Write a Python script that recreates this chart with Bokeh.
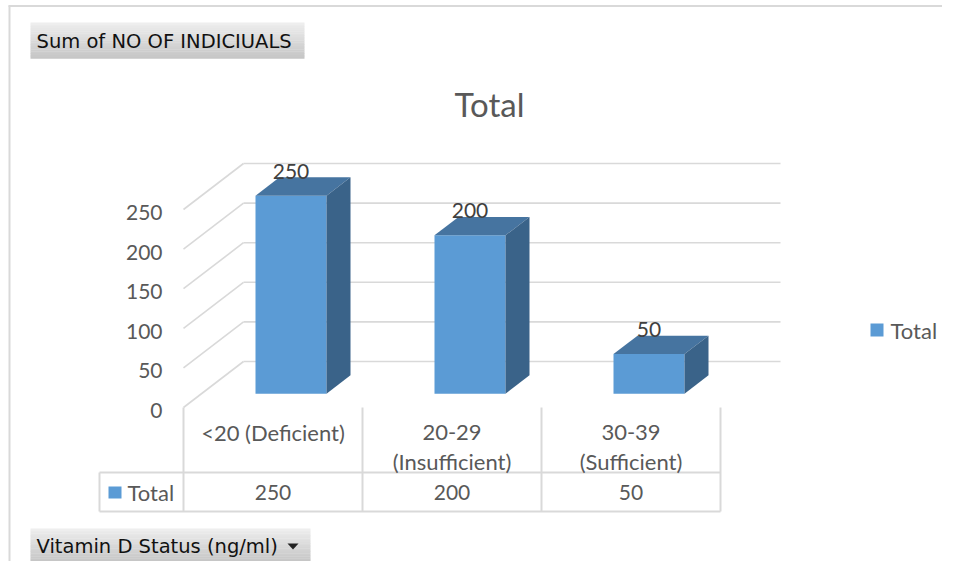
from bokeh.plotting import figure
from bokeh.models import Range1d
from bokeh.core.properties import value
from bokeh.embed import file_html
from bokeh.resources import INLINE

# ---------------- data ----------------
categories = ["<20 (Deficient)", "20-29 (Insufficient)", "30-39 (Sufficient)"]
values = [250, 200, 50]
y_ticks = [0, 50, 100, 150, 200, 250]
series_name = "Total"
chart_title = "Total"
value_field_label = "Sum of NO OF INDICIUALS"
axis_field_label = "Vitamin D Status (ng/ml)"

# ---------------- geometry (pixels of the picture) ----------------
W, H = 942, 561
OFF = 0
X0, Y0 = 272.5, 407.0      # front plane: category 0 centre, value 0
CX, K = 179.0, 0.792       # px per category, px per value unit
DX, DY = 60.0, 46.0        # full depth offset (right, up)

def px2x(X): return (X - X0) / CX
def px2y(Y): return (Y0 - Y) / K
def ddx(px): return px / CX
def ddy(px): return -px / K       # px downwards -> data
def depth(d): return (d * DX / CX, d * DY / K)

BLUE = "#5B9BD5"
TOP = "#4674A0"
SIDE = "#3A6389"
GRID = "#d9d9d9"
TXT = "#595959"
FONT = value("Lato")
BFONT = value("DejaVu Sans")

p = figure(width=W, height=H, output_backend="svg", toolbar_location=None,
           x_axis_type=None, y_axis_type=None, min_border=0,
           x_range=Range1d(px2x(OFF), px2x(OFF + W)),
           y_range=Range1d(px2y(OFF + H), px2y(OFF)))
p.outline_line_color = None
p.background_fill_color = "white"
p.border_fill_color = "white"

n = len(categories)
left_edge, right_edge = -0.5, n - 0.5

# outer chart border (left and top)
p.line([px2x(9), px2x(9)], [px2y(5), px2y(OFF + H)], line_color=GRID, line_width=2)
p.line([px2x(8), px2x(OFF + W)], [px2y(5.5), px2y(5.5)], line_color=GRID, line_width=2)

# ---------------- 3D walls / gridlines ----------------
wx, wy = depth(1.0)
gxs, gys = [], []
for v in y_ticks:
    gxs.append([left_edge, left_edge + wx]); gys.append([v, v + wy])
    gxs.append([left_edge + wx, right_edge + wx]); gys.append([v + wy, v + wy])
p.multi_line(gxs, gys, line_color=GRID, line_width=1.6)

# y tick labels
p.text(x=[left_edge + ddx(-21)] * len(y_ticks), y=[v + ddy(3) for v in y_ticks],
       text=[str(v) for v in y_ticks], text_font=FONT, text_font_size=value("21px"),
       text_color=TXT, text_align="right", text_baseline="middle")

# ---------------- bars ----------------
hw = 35.5 / CX
f0x, f0y = depth(0.3)
f1x, f1y = depth(0.7)
idx = list(range(n))
lefts = [i - hw + f0x for i in idx]
rights = [i + hw + f0x for i in idx]
p.quad(left=lefts, right=rights, bottom=[f0y] * n, top=[v + f0y for v in values],
       fill_color=BLUE, line_color=None)
top_xs, top_ys, side_xs, side_ys = [], [], [], []
for i, v in zip(idx, values):
    l, r = i - hw, i + hw
    top_xs.append([l + f0x, r + f0x, r + f1x, l + f1x])
    top_ys.append([v + f0y, v + f0y, v + f1y, v + f1y])
    side_xs.append([r + f0x, r + f1x, r + f1x, r + f0x])
    side_ys.append([f0y, f1y, v + f1y, v + f0y])
p.patches(top_xs, top_ys, fill_color=TOP, line_color=None)
p.patches(side_xs, side_ys, fill_color=SIDE, line_color=None)

# data labels
p.text(x=[i + f0x for i in idx], y=[v + f1y + ddy(-6) for v in values],
       text=[str(v) for v in values], text_font=FONT, text_font_size=value("21px"),
       text_color="#404040", text_align="center", text_baseline="middle")

# ---------------- title ----------------
p.text(x=[px2x(489)], y=[px2y(103)], text=[chart_title], text_font=FONT,
       text_font_size=value("33px"), text_color=TXT, text_align="center", text_baseline="middle")

# ---------------- legend (right) ----------------
p.quad(left=[px2x(870)], right=[px2x(883)], top=[px2y(323)], bottom=[px2y(336)],
       fill_color=BLUE, line_color=None)
p.text(x=[px2x(890)], y=[px2y(330)], text=[series_name], text_font=FONT,
       text_font_size=value("22px"), text_color=TXT, text_align="left", text_baseline="middle")

# ---------------- data table ----------------
T_TOP, T_MID, T_BOT, T_LEFT = 407, 472, 511, 99
txs, tys = [], []
for e in [left_edge + k for k in range(n + 1)]:
    txs.append([e, e]); tys.append([px2y(T_TOP), px2y(T_BOT)])
txs.append([px2x(T_LEFT), px2x(T_LEFT)]); tys.append([px2y(T_MID), px2y(T_BOT)])
for Y in (T_MID, T_BOT):
    txs.append([px2x(T_LEFT), right_edge]); tys.append([px2y(Y), px2y(Y)])
p.multi_line(txs, tys, line_color=GRID, line_width=2)

# category labels (wrapped like Excel)
lx, ly, lt = [], [], []
for i, c in enumerate(categories):
    lines = [c] if len(c) <= 15 else [c[:c.index(" (")], c[c.index(" (") + 1:]]
    for k, s in enumerate(lines):
        lx.append(i); ly.append(px2y(432 + 29 * k)); lt.append(s)
p.text(x=lx, y=ly, text=lt, text_font=FONT, text_font_size=value("22px"),
       text_color=TXT, text_align="center", text_baseline="middle")

# table values row
p.text(x=idx, y=[px2y(492)] * n, text=[str(v) for v in values], text_font=FONT,
       text_font_size=value("21px"), text_color=TXT, text_align="center", text_baseline="middle")
p.quad(left=[px2x(108)], right=[px2x(121)], top=[px2y(486)], bottom=[px2y(498)],
       fill_color=BLUE, line_color=None)
p.text(x=[px2x(127)], y=[px2y(492)], text=[series_name], text_font=FONT,
       text_font_size=value("22px"), text_color=TXT, text_align="left", text_baseline="middle")

# ---------------- field buttons (grey gradient) ----------------
def button(X1, Y1, X2, Y2):
    steps = 20
    ls, rs, ts, bs, cs = [], [], [], [], []
    for k in range(steps):
        t = k / (steps - 1)
        c = int(238 - t * 40)
        ya = Y1 + (Y2 - Y1) * k / steps
        yb = Y1 + (Y2 - Y1) * (k + 1) / steps
        ls.append(px2x(X1)); rs.append(px2x(X2))
        ts.append(px2y(ya)); bs.append(px2y(yb + 0.3))
        cs.append("#%02x%02x%02x" % (c, c, c))
    p.quad(left=ls, right=rs, top=ts, bottom=bs, fill_color=cs, line_color=None)

button(30, 22, 304, 58)
p.text(x=[px2x(36)], y=[px2y(41)], text=[value_field_label], text_font=BFONT,
       text_font_size=value("19.5px"), text_color="#111111", text_align="left", text_baseline="middle")

button(30, 528, 310, 561)
p.text(x=[px2x(36)], y=[px2y(546)], text=[axis_field_label], text_font=BFONT,
       text_font_size=value("19.5px"), text_color="#111111", text_align="left", text_baseline="middle")
p.patch([px2x(287), px2x(298), px2x(292.5)], [px2y(543), px2y(543), px2y(549)],
        fill_color="#222222", line_color=None)

open("out.html", "w").write(file_html(p, INLINE))
